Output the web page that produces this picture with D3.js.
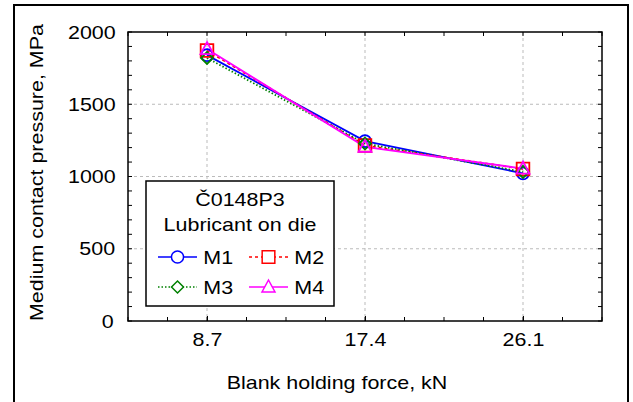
<!DOCTYPE html>
<html lang="en">
<head>
<meta charset="utf-8">
<script src="https://cdn.jsdelivr.net/npm/d3@7"></script>
<style>
  body { margin: 0; background: #fff; }
  text {
    font-family: "Liberation Sans", Arial, sans-serif; fill: #000;
    transform-box: fill-box; transform-origin: center; transform: scaleX(1.13);
  }
</style>
</head>
<body>
<div id="chart"></div>
<script>
// x categories (blank holding force, kN)
const forces = [8.7, 17.4, 26.1];
const forceLabels = ["8.7", "17.4", "26.1"];
// medium contact pressure, MPa
const m1 = [1840, 1245, 1022];
const m2 = [1872, 1215, 1052];
const m3 = [1820, 1228, 1032];
const m4 = [1882, 1205, 1055];
const yTicks = [0, 500, 1000, 1500, 2000];

const series = [
  { name: "M1", values: m1, color: "#0000ff", dash: null, marker: "circle" },
  { name: "M2", values: m2, color: "#ff0000", dash: "3,3", marker: "square" },
  { name: "M3", values: m3, color: "#008000", dash: "1.5,2", marker: "diamond" },
  { name: "M4", values: m4, color: "#ff00ff", dash: null, marker: "triangle" }
];

const W = 633, H = 402;
const FS = 19;
const margin = { top: 32, right: 31, bottom: 81, left: 128 };
const width = W - margin.left - margin.right,
      height = H - margin.top - margin.bottom;

const svg = d3.select("#chart").append("svg")
    .attr("width", W).attr("height", H);

// outer frame
svg.append("rect")
    .attr("x", 14).attr("y", 5).attr("width", 614).attr("height", 410)
    .attr("fill", "none").attr("stroke", "#000").attr("stroke-width", 2);

const g = svg.append("g")
    .attr("transform", "translate(" + margin.left + "," + margin.top + ")");

const step = forces[1] - forces[0];
const x = d3.scaleLinear()
    .domain([forces[0] - step / 2, forces[forces.length - 1] + step / 2])
    .range([0, width]);
const y = d3.scaleLinear().domain([0, 2000]).range([height, 0]);

// grid
g.selectAll(".vgrid").data(forces).enter().append("line")
    .attr("x1", d => x(d)).attr("x2", d => x(d))
    .attr("y1", 0).attr("y2", height)
    .attr("stroke", "#bbb").attr("stroke-dasharray", "3,3");
g.selectAll(".hgrid").data(yTicks.slice(1, -1)).enter().append("line")
    .attr("y1", d => y(d)).attr("y2", d => y(d))
    .attr("x1", 0).attr("x2", width)
    .attr("stroke", "#bbb").attr("stroke-dasharray", "3,3");

// minor tick values
const xMinor = d3.range(x.domain()[0], x.domain()[1] + 0.001, step / 4);
const yMinor = d3.range(0, 2001, 100);

const axisStyle = sel => {
  sel.select(".domain").remove();
  sel.selectAll("line").attr("stroke", "#000");
};

// bottom axis with labels
g.append("g").attr("transform", "translate(0," + height + ")")
    .call(d3.axisBottom(x).tickValues(forces).tickFormat((d, i) => forceLabels[i])
      .tickSizeInner(-5).tickSizeOuter(0).tickPadding(12))
    .call(axisStyle)
    .selectAll("text").attr("font-size", FS).attr("fill", "#000");
// minor ticks, all four sides
[["bottom", height, -4], ["top", 0, 4]].forEach(([side, yy, len]) => {
  g.selectAll(".xm" + side).data(xMinor).enter().append("line")
    .attr("x1", d => x(d)).attr("x2", d => x(d))
    .attr("y1", yy).attr("y2", yy + len).attr("stroke", "#000");
});
[["left", 0, 4], ["right", width, -4]].forEach(([side, xx, len]) => {
  g.selectAll(".ym" + side).data(yMinor).enter().append("line")
    .attr("y1", d => y(d)).attr("y2", d => y(d))
    .attr("x1", xx).attr("x2", xx + len).attr("stroke", "#000");
});

// left axis labels
g.append("g")
    .call(d3.axisLeft(y).tickValues(yTicks).tickFormat(d3.format("d"))
      .tickSize(0).tickPadding(15))
    .call(axisStyle)
    .selectAll("text").attr("font-size", FS).attr("fill", "#000");

// plot frame
g.append("rect").attr("width", width).attr("height", height)
    .attr("fill", "none").attr("stroke", "#000").attr("stroke-width", 1.5);

// markers
const markerPath = {
  circle: d3.symbol(d3.symbolCircle, 115)(),
  square: d3.symbol(d3.symbolSquare, 160)(),
  diamond: "M0,-6L6,0L0,6L-6,0Z",
  triangle: "M0,-7L6.5,5L-6.5,5Z"
};

const line = d3.line().x((d, i) => x(forces[i])).y(d => y(d));

series.forEach(s => {
  g.append("path").datum(s.values)
    .attr("d", line).attr("fill", "none")
    .attr("stroke", s.color).attr("stroke-width", 1.8)
    .attr("stroke-dasharray", s.dash);
});
series.forEach(s => {
  g.selectAll(".mk" + s.name).data(s.values).enter().append("path")
    .attr("d", markerPath[s.marker])
    .attr("transform", (d, i) => "translate(" + x(forces[i]) + "," + y(d) + ")")
    .attr("fill", "none").attr("stroke", s.color).attr("stroke-width", 1.8);
});

// legend
const lg = svg.append("g");
lg.append("rect").attr("x", 146).attr("y", 181).attr("width", 188).attr("height", 125)
    .attr("fill", "#fff").attr("stroke", "#000").attr("stroke-width", 1.5);
lg.append("text").attr("x", 240).attr("y", 206).attr("text-anchor", "middle")
    .attr("font-size", FS).text("Č0148P3");
lg.append("text").attr("x", 240).attr("y", 231).attr("text-anchor", "middle")
    .attr("font-size", FS).text("Lubricant on die");
series.forEach((s, i) => {
  const lx = 158 + (i % 2) * 91, ly = 257 + Math.floor(i / 2) * 30;
  lg.append("line").attr("x1", lx).attr("x2", lx + 39).attr("y1", ly).attr("y2", ly)
    .attr("stroke", s.color).attr("stroke-width", 1.5).attr("stroke-dasharray", s.dash);
  lg.append("path").attr("d", markerPath[s.marker])
    .attr("transform", "translate(" + (lx + 19.5) + "," + ly + ")")
    .attr("fill", "#fff").attr("stroke", s.color).attr("stroke-width", 1.5);
  lg.append("text").attr("x", lx + 47).attr("y", ly + 7)
    .attr("font-size", FS).text(s.name);
});

// axis titles
svg.append("g")
    .attr("transform", "translate(43," + (margin.top + height / 2 - 4) + ") rotate(-90)")
  .append("text")
    .attr("text-anchor", "middle").attr("font-size", FS)
    .text("Medium contact pressure, MPa");
svg.append("text")
    .attr("x", 337).attr("y", 389)
    .attr("text-anchor", "middle").attr("font-size", FS)
    .text("Blank holding force, kN");
</script>
</body>
</html>
